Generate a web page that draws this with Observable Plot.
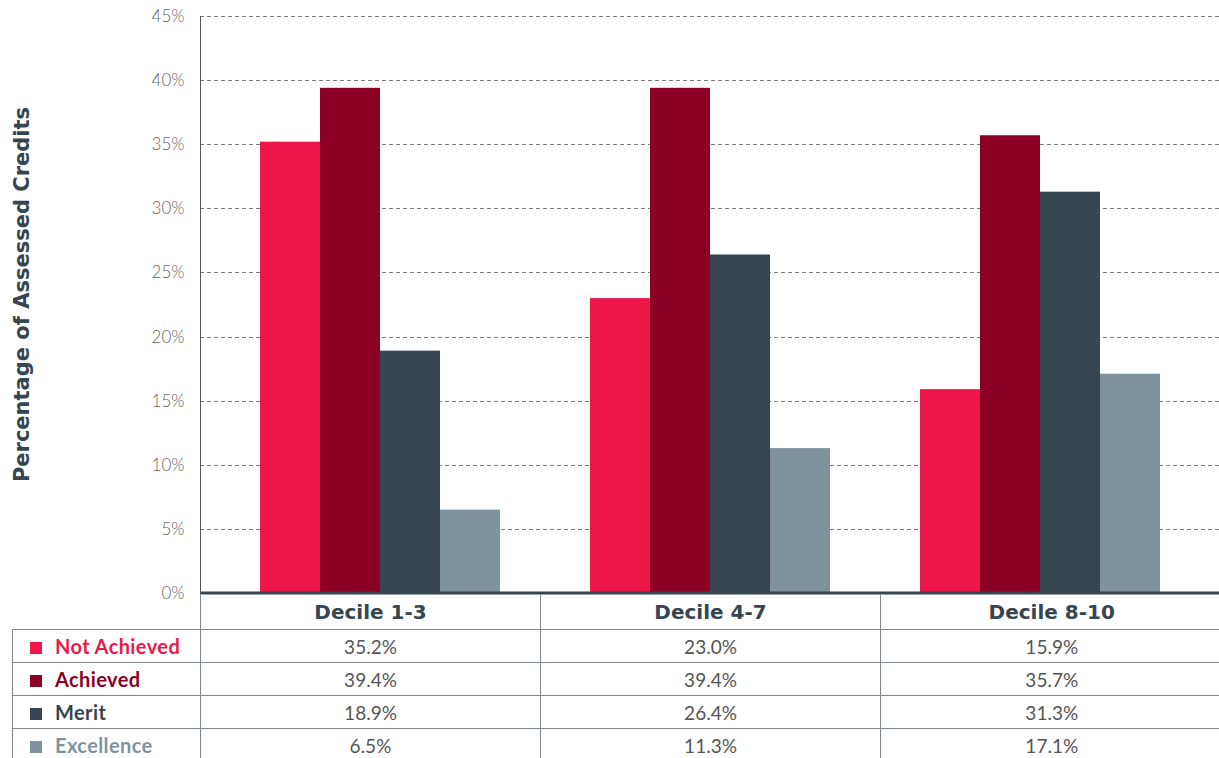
<!DOCTYPE html>
<html>
<head>
<meta charset="utf-8">
<script src="https://cdn.jsdelivr.net/npm/d3@7"></script>
<script src="https://cdn.jsdelivr.net/npm/@observablehq/plot@0.6"></script>
<style>
  html, body { margin: 0; padding: 0; background: #fff; }
  body { width: 1219px; height: 758px; overflow: hidden; position: relative; font-family: Lato, "Open Sans", sans-serif; }
  #chart { position: absolute; left: 0; top: 0; }
  table { position: absolute; left: 12px; top: 595px; border-collapse: collapse; table-layout: fixed; width: 1210px; }
  td { border: 1px solid #7d878d; padding: 0; text-align: center; font-size: 19px; color: #555; height: 32px; }
  tr.head td { border-top: none; height: 34px; font-family: "DejaVu Sans", sans-serif; font-weight: bold; font-size: 20px; color: #36454f; }
  tr.head td.blank { border: none; border-bottom: 1px solid #7d878d; }
  td.lab { text-align: left; padding-left: 17px; font-weight: 700; font-size: 20px; letter-spacing: 0.4px; }
  td.lab span.sw { display: inline-block; width: 12px; height: 12px; margin-right: 13px; vertical-align: 0px; }
  td.last { border-right: none; }
</style>
</head>
<body>
<div id="chart"></div>
<script>
const deciles = ["Decile 1-3", "Decile 4-7", "Decile 8-10"];
const series = ["Not Achieved", "Achieved", "Merit", "Excellence"];
const colors = ["#ed1849", "#8c0026", "#36454f", "#7f939e"];
const notAchieved = [35.2, 23.0, 15.9];
const achieved = [39.4, 39.4, 35.7];
const merit = [18.9, 26.4, 31.3];
const excellence = [6.5, 11.3, 17.1];
const yTicks = [0, 5, 10, 15, 20, 25, 30, 35, 40, 45];
const yLabel = "Percentage of Assessed Credits";

const valuesBySeries = [notAchieved, achieved, merit, excellence];
const data = [];
deciles.forEach((d, i) => series.forEach((s, j) => data.push({decile: d, series: s, value: valuesBySeries[j][i]})));

const plot = Plot.plot({
  width: 1219,
  height: 612,
  marginLeft: 215,
  marginRight: 14,
  marginTop: 16,
  marginBottom: 19,
  style: {fontFamily: "Lato, 'Open Sans', sans-serif", fontSize: "17px", fontWeight: 300, color: "#666", background: "transparent"},
  fx: {domain: deciles, padding: 0, axis: null},
  x: {domain: series, paddingInner: 0, paddingOuter: 0.75, axis: null},
  y: {domain: [0, 45], ticks: yTicks, tickFormat: d => d + "%", tickSize: 0, tickPadding: 31, label: null},
  color: {domain: series, range: colors},
  marks: [
    Plot.barY(data, {fx: "decile", x: "series", y: "value", fill: "series", inset: 0})
  ]
});
document.getElementById("chart").appendChild(plot);

// gridlines, baseline, y axis line and y label, positioned with the plot's own y scale
const ys = plot.scale("y");
const svg = d3.select(plot);
const under = svg.insert("g", ":first-child");
under.selectAll("line.grid")
  .data(yTicks.filter(t => t > 0))
  .join("line")
  .attr("x1", 200).attr("x2", 1219)
  .attr("y1", d => Math.round(ys.apply(d)) + 0.5).attr("y2", d => Math.round(ys.apply(d)) + 0.5)
  .attr("stroke", "#7a7a7a").attr("stroke-dasharray", "4,3");
svg.append("line")
  .attr("x1", 200).attr("x2", 1219)
  .attr("y1", ys.apply(0)).attr("y2", ys.apply(0))
  .attr("stroke", "#36454f").attr("stroke-width", 3);
svg.append("line")
  .attr("x1", 200.5).attr("x2", 200.5)
  .attr("y1", ys.apply(45)).attr("y2", ys.apply(0))
  .attr("stroke", "#555").attr("stroke-width", 1);
svg.append("text")
  .attr("transform", `translate(29,${(ys.apply(45) + ys.apply(0)) / 2 - 10}) rotate(-90)`)
  .attr("text-anchor", "middle")
  .attr("font-family", "'DejaVu Sans', sans-serif")
  .attr("font-weight", "bold")
  .attr("font-size", 21)
  .attr("fill", "#36454f")
  .text(yLabel);

// table below
const table = document.createElement("table");
const colgroup = document.createElement("colgroup");
[188, 340, 340, 342].forEach(w => { const c = document.createElement("col"); c.style.width = w + "px"; colgroup.appendChild(c); });
table.appendChild(colgroup);
const head = document.createElement("tr");
head.className = "head";
const blank = document.createElement("td"); blank.className = "blank"; head.appendChild(blank);
deciles.forEach((d, i) => { const td = document.createElement("td"); td.textContent = d; if (i === deciles.length - 1) td.className = "last"; head.appendChild(td); });
table.appendChild(head);
series.forEach((s, j) => {
  const tr = document.createElement("tr");
  const lab = document.createElement("td");
  lab.className = "lab";
  lab.style.color = colors[j];
  const sw = document.createElement("span"); sw.className = "sw"; sw.style.background = colors[j];
  lab.appendChild(sw);
  lab.appendChild(document.createTextNode(s));
  tr.appendChild(lab);
  deciles.forEach((d, i) => {
    const td = document.createElement("td");
    td.textContent = valuesBySeries[j][i].toFixed(1) + "%";
    if (i === deciles.length - 1) td.className = "last";
    tr.appendChild(td);
  });
  table.appendChild(tr);
});
document.body.appendChild(table);
</script>
</body>
</html>
